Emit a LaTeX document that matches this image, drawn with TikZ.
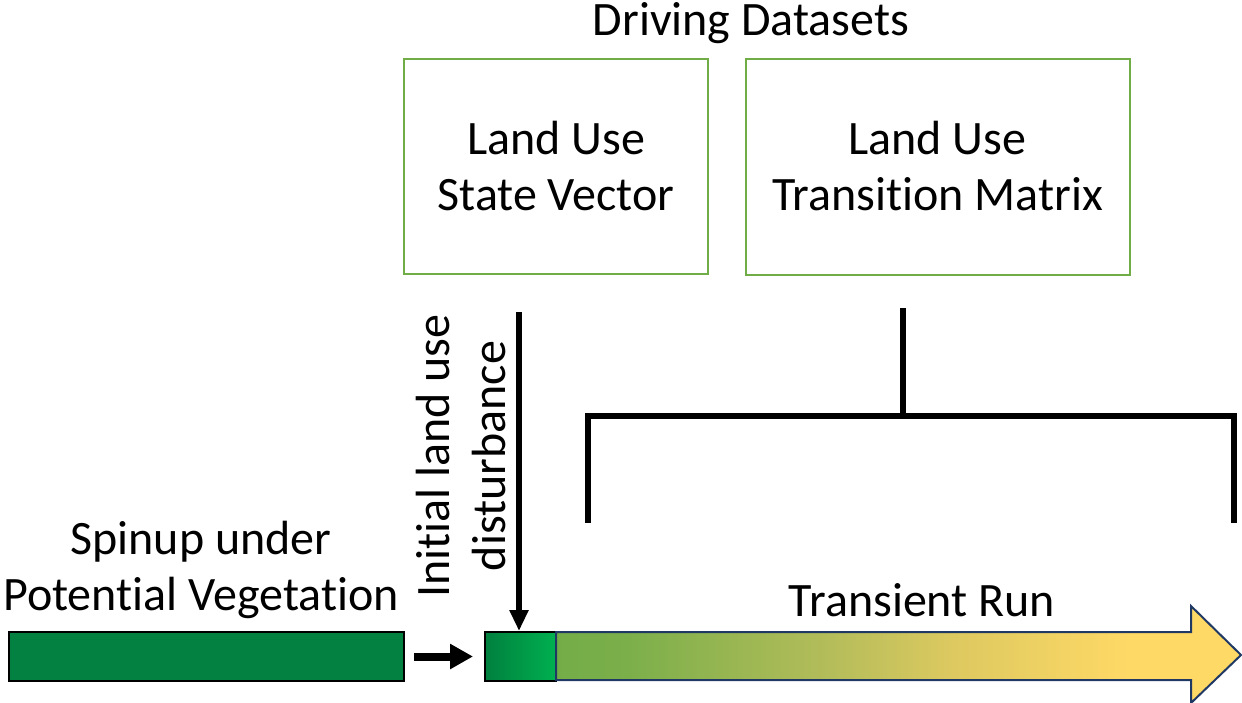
\documentclass[tikz,border=0pt]{standalone}
\usepackage{fontspec}
\setmainfont{Carlito}[RawFeature={-liga;-clig;-calt;-dlig}]
\usetikzlibrary{arrows.meta}
\definecolor{boxgreen}{RGB}{112,173,71}
\definecolor{bardark}{RGB}{3,129,65}
\definecolor{smallL}{RGB}{0,128,62}
\definecolor{smallR}{RGB}{0,176,80}
\definecolor{navy}{RGB}{31,56,100}
\definecolor{tA}{RGB}{116,173,72}
\definecolor{tB}{RGB}{180,189,90}
\definecolor{tC}{RGB}{221,201,96}
\definecolor{tD}{RGB}{255,217,102}
\pgfdeclarehorizontalshading{transient}{100bp}{color(0bp)=(tA); color(25bp)=(tA); color(30bp)=(tA!90!tB); color(45bp)=(tB); color(54bp)=(tC); color(67bp)=(tD); color(75bp)=(tD); color(100bp)=(tD)}
\tikzset{
  txt/.style={font=\fontsize{48}{56}\selectfont, align=center, inner sep=0pt},
  dsbox/.style={draw=boxgreen, line width=2pt, inner sep=0pt, txt},
  bar/.style={draw=black, line width=2pt, inner sep=0pt, minimum height=49pt},
  thickline/.style={line width=6pt},
}
\begin{document}
\begin{tikzpicture}[x=1pt,y=-1pt]
\useasboundingbox (0,0) rectangle (1242,702);
% title
\node[txt] (title) at (751,23) {Driving Datasets};
% dataset boxes
\node[dsbox, minimum width=304pt, minimum height=215pt] (state) at (556,166) {Land Use\\State Vector};
\node[dsbox, minimum width=384pt, minimum height=216pt] (trans) at (937.5,166.5) {Land Use\\Transition Matrix};
% spinup
\node[txt] (spinlab) at (201,570) {Spinup under\\Potential Vegetation};
\node[bar, fill=bardark, minimum width=395pt] (spin) at (206.5,656.5) {};
% small initial box
\node[bar, left color=smallL, right color=smallR, minimum width=71pt] (init) at (520.5,656.5) {};
% transient arrow
\coordinate (ta) at (556,632);
\path[shading=transient, draw=navy, line width=2pt, line join=miter]
  (ta) -- (1191,632) -- (1191,606) -- (1241,655) -- (1191,703) -- (1191,680) -- (556,680) -- cycle;
\node[txt] (translab) at (922,600) {Transient Run};
% spinup -> init arrow
\draw[line width=8pt, -{Triangle[length=23pt,width=24pt]}, shorten <=9pt, shorten >=11pt] (spin.east) -- (init.west);
% initial land use disturbance
\node[txt, rotate=90] (dist) at (461,456) {Initial land use\\disturbance};
\coordinate (dtop) at (519,312);
\draw[thickline, -{Triangle[length=21pt,width=18pt]}] (dtop) -- (init.north -| dtop);
% bracket
\coordinate (btop) at (903,308);
\coordinate (bmid) at (903,416);
\coordinate (bl) at (588,416);
\coordinate (br) at (1234,416);
\coordinate (bld) at (588,523);
\coordinate (brd) at (1234,523);
\draw[thickline] (btop) -- (bmid);
\draw[thickline, line join=miter] (bld) -- (bl) -- (br) -- (brd);
\end{tikzpicture}
\end{document}
